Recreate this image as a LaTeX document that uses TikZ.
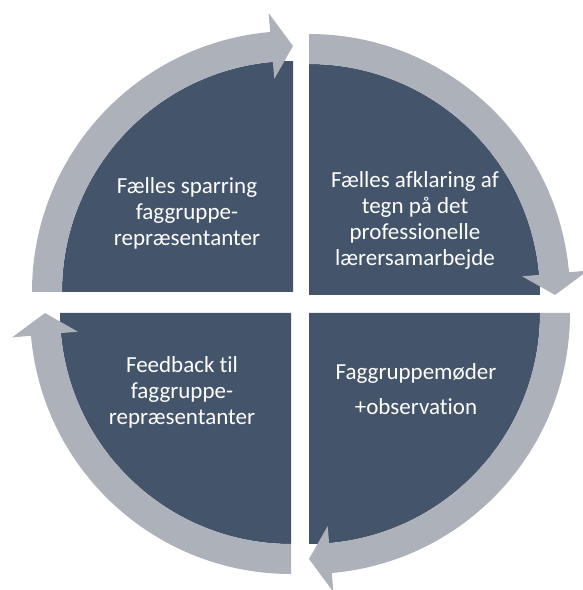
\documentclass[tikz,border=0pt]{standalone}
\usepackage{fontspec}
\setmainfont{Carlito}[Ligatures=NoCommon]
\usetikzlibrary{calc}
\definecolor{slate}{HTML}{44546A}
\definecolor{ringgray}{HTML}{ADB1B9}
\begin{document}
\begin{tikzpicture}[x=1pt,y=1pt]
	\tikzstyle{quadrant}=[fill=slate]
	\tikzstyle{ring}=[fill=ringgray]
	\tikzstyle{label}=[text=white, align=center, font=\fontsize{23}{26}\selectfont]
	
	\useasboundingbox (0,0) rectangle (583,590);
	
	% top left
	\coordinate (ctl) at (293,298);
	\fill[quadrant] (ctl) -- ++(180:231) arc[start angle=180, end angle=90, radius=231] -- cycle;
	\fill[ring] ($(ctl)+(180:231)$) arc[start angle=180, end angle=95, radius=231] -- ($(ctl)+(95:214)$) -- ($(ctl)+(90:246)$) -- ($(ctl)+(95:280)$) -- ($(ctl)+(95:261)$) arc[start angle=95, end angle=180, radius=261] -- cycle;
	
	% top right
	\coordinate (ctr) at (309,295);
	\fill[quadrant] (ctr) -- ++(90:231) arc[start angle=90, end angle=0, radius=231] -- cycle;
	\fill[ring] ($(ctr)+(90:231)$) arc[start angle=90, end angle=5, radius=231] -- ($(ctr)+(5:214)$) -- ($(ctr)+(0:246)$) -- ($(ctr)+(5:280)$) -- ($(ctr)+(5:261)$) arc[start angle=5, end angle=90, radius=261] -- cycle;
	
	% bottom right
	\coordinate (cbr) at (309,277);
	\fill[quadrant] (cbr) -- ++(0:231) arc[start angle=0, end angle=-90, radius=231] -- cycle;
	\fill[ring] ($(cbr)+(0:231)$) arc[start angle=0, end angle=-85, radius=231] -- ($(cbr)+(-85:214)$) -- ($(cbr)+(-90:246)$) -- ($(cbr)+(-85:280)$) -- ($(cbr)+(-85:261)$) arc[start angle=-85, end angle=0, radius=261] -- cycle;
	
	% bottom left
	\coordinate (cbl) at (291,277);
	\fill[quadrant] (cbl) -- ++(-90:231) arc[start angle=-90, end angle=-180, radius=231] -- cycle;
	\fill[ring] ($(cbl)+(-90:231)$) arc[start angle=-90, end angle=-175, radius=231] -- ($(cbl)+(-175:214)$) -- ($(cbl)+(-180:246)$) -- ($(cbl)+(-175:280)$) -- ($(cbl)+(-175:261)$) arc[start angle=-175, end angle=-90, radius=261] -- cycle;
	
	% labels
	\node (tl) at (187,377) [label] {Fælles sparring\\faggruppe-\\repræsentanter};
	\node (tr) at (415,370) [label] {Fælles afklaring af\\tegn på det\\professionelle\\lærersamarbejde};
	\node (bl) at (182,198) [label] {Feedback til\\faggruppe-\\repræsentanter};
	\node (br) at (416,201) [label] {Faggruppemøder\\[9pt]+observation};
\end{tikzpicture}
\end{document}
